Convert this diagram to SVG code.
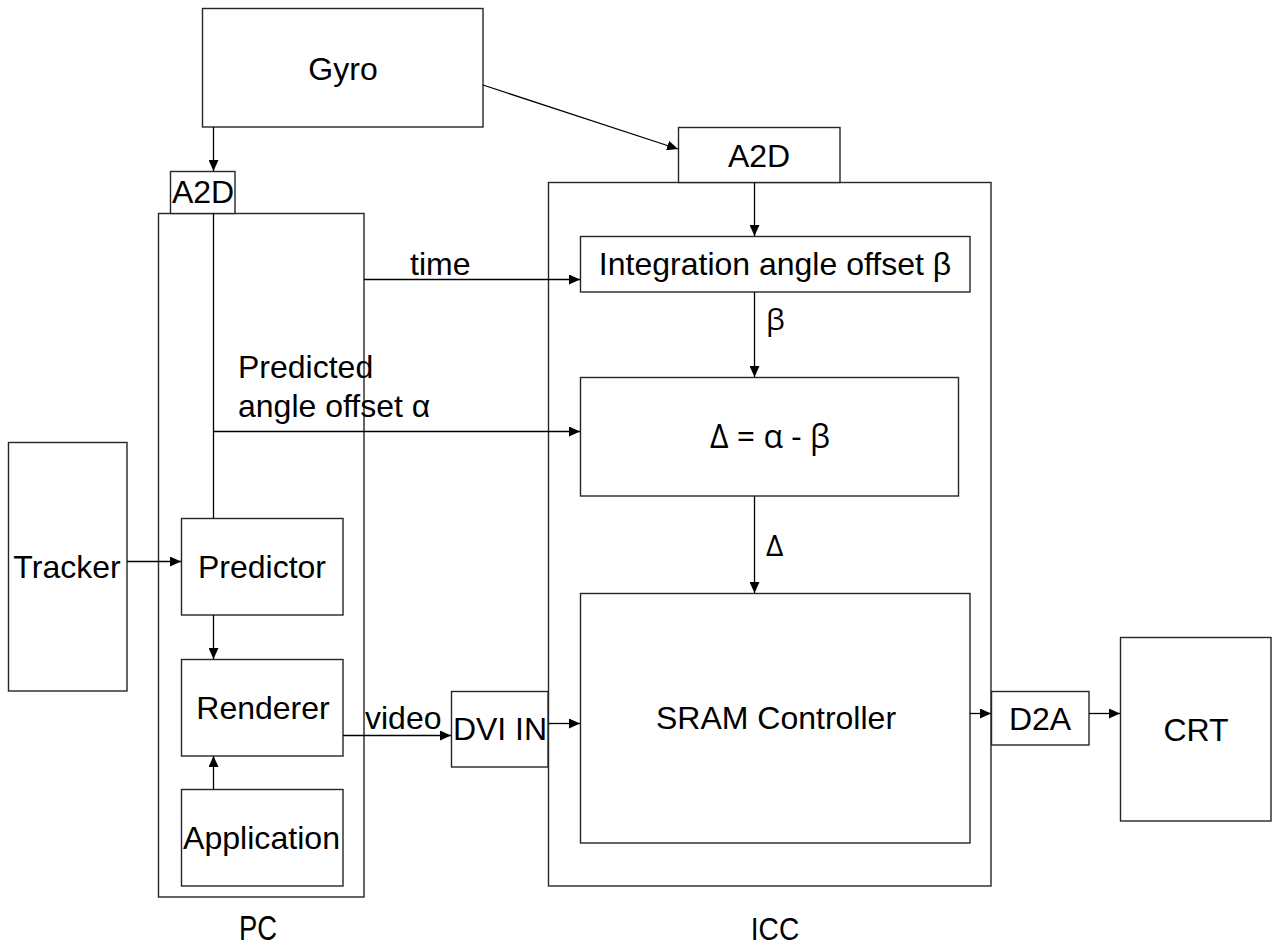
<svg xmlns="http://www.w3.org/2000/svg" width="1272" height="949" viewBox="0 0 1272 949">
<style>
.box{fill:#fff;stroke:#262626;stroke-width:1.4}
.frame{fill:none;stroke:#262626;stroke-width:1.4}
.t{font-family:"Liberation Sans",Arial,sans-serif;font-size:32px;fill:#000}
.g{font-family:"Open Sans","Noto Sans",sans-serif;font-size:30px;fill:#000}
.c{fill:none;stroke:#000;stroke-width:1.3}
</style>
<defs>
<marker id="ah" markerWidth="11" markerHeight="10" refX="11" refY="5" orient="auto" markerUnits="userSpaceOnUse">
<path d="M0,0 L11,5 L0,10 Z" fill="#000"/>
</marker>
</defs>
<g id="pc">
<rect class="frame" x="158.5" y="213.5" width="205.5" height="683.5"/>
<text class="t" x="258" y="940" text-anchor="middle" style="font-size:36px" transform="translate(258 0) scale(0.76 1) translate(-258 0)">PC</text>
</g>
<g id="icc">
<rect class="frame" x="548.5" y="182.5" width="442.5" height="703.5"/>
<text class="t" x="775" y="940" text-anchor="middle" transform="translate(775 0) scale(0.88 1) translate(-775 0)">ICC</text>
</g>
<g id="gyro">
<rect class="box" x="202.5" y="8.5" width="280.5" height="118.5"/>
<text class="t" x="343" y="80" text-anchor="middle">Gyro</text>
</g>
<g id="a2d-pc">
<rect class="box" x="170.5" y="171.5" width="64.5" height="42"/>
<text class="t" x="203" y="203" text-anchor="middle">A2D</text>
</g>
<g id="a2d-icc">
<rect class="box" x="678.5" y="127.5" width="161.5" height="55"/>
<text class="t" x="759" y="167" text-anchor="middle">A2D</text>
</g>
<g id="tracker">
<rect class="box" x="8.5" y="442.5" width="118.5" height="248.5"/>
<text class="t" x="67" y="578" text-anchor="middle">Tracker</text>
</g>
<g id="predictor">
<rect class="box" x="181.5" y="518.5" width="161.5" height="96.5"/>
<text class="t" x="262" y="578" text-anchor="middle">Predictor</text>
</g>
<g id="renderer">
<rect class="box" x="181.5" y="659.5" width="161.5" height="96.5"/>
<text class="t" x="263" y="719" text-anchor="middle">Renderer</text>
</g>
<g id="application">
<rect class="box" x="181.5" y="789.5" width="161.5" height="96.5"/>
<text class="t" x="183" y="849" textLength="157" lengthAdjust="spacingAndGlyphs">Application</text>
</g>
<g id="dvi-in">
<rect class="box" x="451.5" y="691.5" width="96.5" height="75.5"/>
<text class="t" x="500" y="740" text-anchor="middle">DVI IN</text>
</g>
<g id="integration">
<rect class="box" x="580.5" y="236.5" width="389.5" height="55.5"/>
<text class="t" x="775" y="275" text-anchor="middle">Integration angle offset β</text>
</g>
<g id="delta">
<rect class="box" x="580.5" y="377.5" width="378" height="118.5"/>
<text class="g" x="770" y="448" text-anchor="middle" style="font-size:32px">Δ = α - β</text>
</g>
<g id="sram">
<rect class="box" x="580.5" y="593.5" width="389.5" height="249.5"/>
<text class="t" x="776" y="729" text-anchor="middle">SRAM Controller</text>
</g>
<g id="d2a">
<rect class="box" x="991.5" y="691.5" width="97.5" height="53.5"/>
<text class="t" x="1040" y="730" text-anchor="middle">D2A</text>
</g>
<g id="crt">
<rect class="box" x="1120.5" y="637.5" width="150.5" height="183.5"/>
<text class="t" x="1196" y="741" text-anchor="middle">CRT</text>
</g>
<g id="connectors">
<line class="c" x1="213.5" y1="127" x2="213.5" y2="171" marker-end="url(#ah)"/>
<line class="c" x1="483" y1="85" x2="678" y2="149" marker-end="url(#ah)"/>
<line class="c" x1="754.5" y1="182" x2="754.5" y2="236" marker-end="url(#ah)"/>
<line class="c" x1="213.5" y1="213" x2="213.5" y2="518"/>
<line class="c" x1="364" y1="279.5" x2="580" y2="279.5" marker-end="url(#ah)"/>
<text class="t" x="410" y="275">time</text>
<line class="c" x1="754.5" y1="292" x2="754.5" y2="377" marker-end="url(#ah)"/>
<text class="g" x="766" y="330">β</text>
<line class="c" x1="213.5" y1="431.5" x2="580" y2="431.5" marker-end="url(#ah)"/>
<text class="t" x="238" y="378">Predicted</text>
<text class="t" x="238" y="417">angle offset α</text>
<line class="c" x1="754.5" y1="496" x2="754.5" y2="593" marker-end="url(#ah)"/>
<text class="g" x="766" y="556">Δ</text>
<line class="c" x1="127" y1="561.5" x2="181" y2="561.5" marker-end="url(#ah)"/>
<line class="c" x1="213.5" y1="615" x2="213.5" y2="659" marker-end="url(#ah)"/>
<line class="c" x1="213.5" y1="789" x2="213.5" y2="756" marker-end="url(#ah)"/>
<line class="c" x1="343" y1="735.5" x2="451" y2="735.5" marker-end="url(#ah)"/>
<text class="t" x="365" y="729">video</text>
<line class="c" x1="548" y1="723.5" x2="580" y2="723.5" marker-end="url(#ah)"/>
<line class="c" x1="970" y1="713.5" x2="991" y2="713.5" marker-end="url(#ah)"/>
<line class="c" x1="1089" y1="713.5" x2="1120" y2="713.5" marker-end="url(#ah)"/>
</g>
</svg>
